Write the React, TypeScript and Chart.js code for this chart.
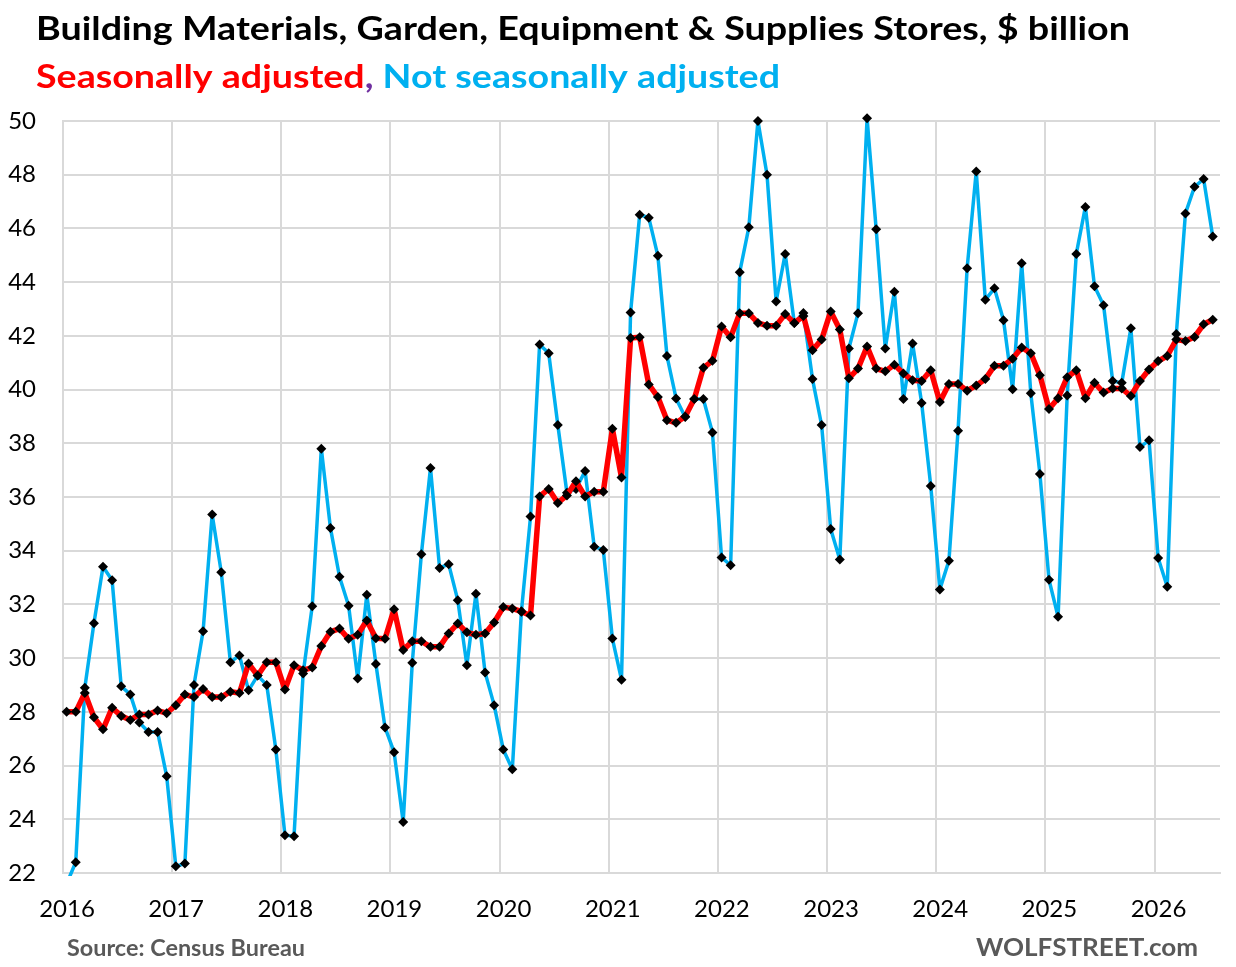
import React, { useEffect, useRef } from 'react';
import { Chart, registerables } from 'chart.js';

Chart.register(...registerables);

// ---- Data (monthly, starting Jan 2016) ----
const startYear = 2016;
const yearLabels = ['2016', '2017', '2018', '2019', '2020', '2021', '2022', '2023', '2024', '2025', '2026'];
const yTickValues = [22, 24, 26, 28, 30, 32, 34, 36, 38, 40, 42, 44, 46, 48, 50];

const seasonallyAdjusted = [
  28.0, 28.0, 28.7, 27.8, 27.35, 28.15, 27.85, 27.7, 27.9, 27.9, 28.05, 27.95,
  28.25, 28.65, 28.55, 28.85, 28.55, 28.55, 28.75, 28.7, 29.8, 29.35, 29.85, 29.85,
  28.83, 29.74, 29.55, 29.65, 30.45, 30.98, 31.1, 30.72, 30.87, 31.4, 30.74, 30.72,
  31.82, 30.3, 30.63, 30.63, 30.42, 30.42, 30.92, 31.29, 30.96, 30.87, 30.92, 31.33,
  31.9, 31.85, 31.73, 31.59, 36.02, 36.3, 35.78, 36.06, 36.59, 36.02, 36.2, 36.2,
  38.54, 36.73, 41.92, 41.95, 40.19, 39.72, 38.86, 38.76, 39.0, 39.65, 40.81, 41.07,
  42.35, 41.95, 42.84, 42.84, 42.48, 42.38, 42.38, 42.81, 42.48, 42.74, 41.46, 41.86,
  42.91, 42.24, 40.42, 40.78, 41.6, 40.78, 40.68, 40.92, 40.6, 40.35, 40.32, 40.72,
  39.54, 40.21, 40.21, 39.96, 40.15, 40.39, 40.89, 40.89, 41.15, 41.57, 41.35, 40.53,
  39.28, 39.68, 40.46, 40.72, 39.68, 40.25, 39.89, 40.04, 40.04, 39.76, 40.32, 40.75,
  41.06, 41.25, 41.86, 41.81, 41.96, 42.43, 42.6,
];

const notSeasonallyAdjusted = [
  21.6, 22.4, 28.9, 31.3, 33.4, 32.9, 28.95, 28.65, 27.6, 27.25, 27.25, 25.6,
  22.25, 22.35, 29.0, 31.0, 35.35, 33.2, 29.85, 30.1, 28.8, 29.35, 29.0, 26.6,
  23.41, 23.37, 29.43, 31.93, 37.8, 34.85, 33.03, 31.95, 29.24, 32.36, 29.78, 27.42,
  26.5, 23.9, 29.83, 33.87, 37.08, 33.36, 33.5, 32.16, 29.74, 32.4, 29.47, 28.25,
  26.6, 25.86, 31.75, 35.27, 41.68, 41.35, 38.68, 36.16, 36.3, 36.97, 34.15, 34.03,
  30.73, 29.2, 42.87, 46.51, 46.4, 44.98, 41.25, 39.67, 38.98, 39.65, 39.65, 38.4,
  33.75, 33.46, 44.37, 46.04, 50.0, 48.0, 43.28, 45.05, 42.48, 42.85, 40.39, 38.68,
  34.81, 33.67, 41.53, 42.84, 50.1, 45.97, 41.53, 43.64, 39.65, 41.72, 39.5, 36.41,
  32.56, 33.63, 38.47, 44.52, 48.12, 43.34, 43.77, 42.58, 40.01, 44.7, 39.86, 36.86,
  32.92, 31.54, 39.78, 45.05, 46.8, 43.85, 43.14, 40.32, 40.25, 42.28, 37.86, 38.11,
  33.73, 32.66, 42.07, 46.56, 47.55, 47.84, 45.7,
];

const TITLE = 'Building Materials, Garden, Equipment & Supplies Stores, $ billion';

const toPoints = (vals: number[]) =>
  vals.map((v, i) => ({ x: startYear + (i + 0.4) / 12, y: v }));

type Part = { text: string; color: string };

function drawFitted(
  ctx: CanvasRenderingContext2D,
  parts: Part[],
  x: number,
  baseline: number,
  width: number,
  font: string
) {
  ctx.save();
  ctx.font = font;
  const total = parts.reduce((s, p) => s + ctx.measureText(p.text).width, 0);
  const sx = width / total;
  ctx.translate(x, baseline);
  ctx.scale(sx, 1);
  ctx.textBaseline = 'alphabetic';
  ctx.textAlign = 'left';
  let cx = 0;
  for (const p of parts) {
    ctx.fillStyle = p.color;
    ctx.fillText(p.text, cx, 0);
    cx += ctx.measureText(p.text).width;
  }
  ctx.restore();
}

const textPlugin = {
  id: 'wolfText',
  afterDraw(chart: any) {
    const ctx: CanvasRenderingContext2D = chart.ctx;
    drawFitted(ctx, [{ text: TITLE, color: '#000000' }], 36, 40, 1094, 'bold 32.5px Lato');
    drawFitted(
      ctx,
      [
        { text: 'Seasonally adjusted', color: '#ff0000' },
        { text: ',', color: '#7030a0' },
        { text: ' Not seasonally adjusted', color: '#00b0f0' },
      ],
      36,
      88,
      744,
      'bold 32.5px Lato'
    );
    drawFitted(ctx, [{ text: 'Source: Census Bureau', color: '#595959' }], 67, 956, 238, 'bold 22px Lato');
    drawFitted(ctx, [{ text: 'WOLFSTREET.com', color: '#595959' }], 976, 956, 222, 'bold 25px Lato');
  },
};

export default function App() {
  const canvasRef = useRef<HTMLCanvasElement | null>(null);

  useEffect(() => {
    document.body.style.margin = '0';
    const canvas = canvasRef.current;
    if (!canvas) return;
    const clip = { left: 8, top: 10, right: 8, bottom: 3 };
    const gridColor = '#d9d9d9';
    const tickFont = { family: 'Lato', size: 24 };

    const chart = new Chart(canvas, {
      type: 'line',
      data: {
        datasets: [
          {
            label: 'Seasonally adjusted',
            data: toPoints(seasonallyAdjusted),
            borderColor: '#ff0000',
            borderWidth: 5.5,
            borderJoinStyle: 'round',
            borderCapStyle: 'round',
            pointStyle: 'rectRot',
            pointRadius: 5,
            pointBackgroundColor: '#000000',
            pointBorderColor: '#000000',
            pointBorderWidth: 0,
            tension: 0,
            clip,
          } as any,
          {
            label: 'Not seasonally adjusted',
            data: toPoints(notSeasonallyAdjusted),
            borderColor: '#00b0f0',
            borderWidth: 3.5,
            borderJoinStyle: 'round',
            borderCapStyle: 'round',
            pointStyle: 'rectRot',
            pointRadius: 5,
            pointBackgroundColor: '#000000',
            pointBorderColor: '#000000',
            pointBorderWidth: 0,
            tension: 0,
            clip,
          } as any,
        ],
      },
      options: {
        responsive: false,
        animation: false,
        layout: { padding: { left: 0, top: 121, right: 16, bottom: 0 } },
        plugins: {
          legend: { display: false },
          tooltip: { enabled: false },
          title: { display: false },
        },
        scales: {
          x: {
            type: 'linear',
            min: startYear,
            max: 2026.6,
            afterFit: (s: any) => {
              s.height = 94;
            },
            grid: { color: gridColor, lineWidth: 2, drawTicks: false },
            border: { color: gridColor, width: 2 },
            ticks: {
              stepSize: 1,
              includeBounds: false,
              autoSkip: false,
              maxRotation: 0,
              labelOffset: 4,
              padding: 22,
              color: '#000000',
              font: tickFont,
              callback: (v: any) => {
                const s = String(v);
                return yearLabels.includes(s) ? s : '';
              },
            },
          },
          y: {
            min: yTickValues[0],
            max: yTickValues[yTickValues.length - 1],
            afterFit: (s: any) => {
              s.width = 63;
            },
            grid: { color: gridColor, lineWidth: 2, drawTicks: false },
            border: { color: gridColor, width: 2 },
            ticks: {
              stepSize: 2,
              padding: 27,
              color: '#000000',
              font: tickFont,
            },
          },
        },
      } as any,
      plugins: [textPlugin],
    });

    return () => {
      chart.destroy();
    };
  }, []);

  return (
    <canvas
      ref={canvasRef}
      width={1236}
      height={967}
      style={{ display: 'block', width: 1236, height: 967 }}
    />
  );
}
